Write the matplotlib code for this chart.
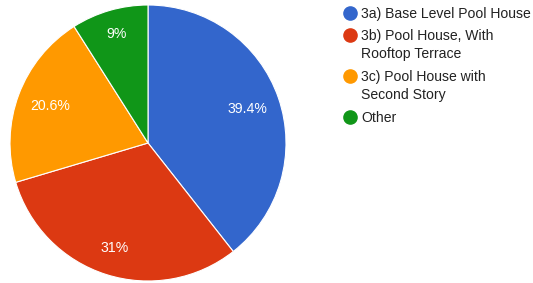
import matplotlib
matplotlib.use("Agg")
import matplotlib.pyplot as plt
from matplotlib.lines import Line2D
import numpy as np

labels = ["3a) Base Level Pool House", "3b) Pool House, With\nRooftop Terrace",
          "3c) Pool House with\nSecond Story", "Other"]
values = [39.4, 31.0, 20.6, 9.0]
pct_labels = ["39.4%", "31%", "20.6%", "9%"]
colors = ["#3366cc", "#dc3912", "#ff9900", "#109618"]

plt.rcParams['font.family'] = ['Liberation Sans', 'DejaVu Sans']
W, H = 533, 283
fig = plt.figure(figsize=(W / 100, H / 100), dpi=100)

cx, cy, r = 148, 143, 138
ax = fig.add_axes([(cx - r) / W, (H - cy - r) / H, 2 * r / W, 2 * r / H])
wedges, texts = ax.pie(values, colors=colors, startangle=90, counterclock=False,
                       wedgeprops=dict(edgecolor="white", linewidth=0.8),
                       radius=1.0)
total = sum(values)
cum = 0
dists = [0.76, 0.80, 0.76, 0.82]
for v, lab, d in zip(values, pct_labels, dists):
    mid = cum + v / 2
    cum += v
    ang = np.deg2rad(90 - 360 * mid / total)
    ax.text(d * np.cos(ang), d * np.sin(ang), lab, ha="center", va="center",
            color="white", fontsize=10.2)
ax.set_xlim(-1, 1)
ax.set_ylim(-1, 1)
ax.set_aspect("equal")
ax.axis("off")

# legend
rows = [13, 35, 76, 117]
for lab, col, y in zip(labels, colors, rows):
    fig.add_artist(Line2D([350 / W], [1 - y / H], marker="o", markersize=9.5,
                          color=col, linestyle="none", transform=fig.transFigure))
    fig.text(361 / W, 1 - (y - 6) / H, lab, ha="left", va="top", fontsize=10.1,
             color="#222222", linespacing=1.36)

fig.savefig("out.png", dpi=100)
